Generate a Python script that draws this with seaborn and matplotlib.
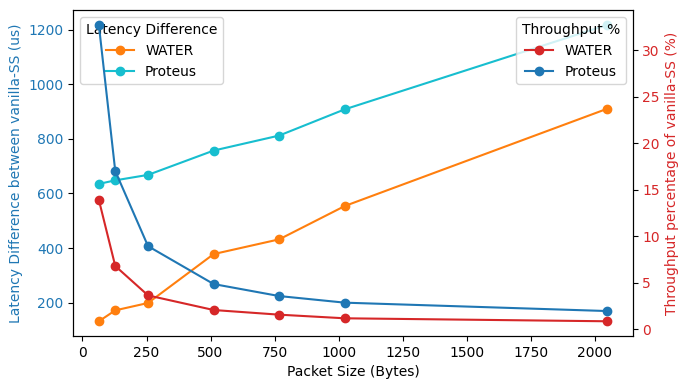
import matplotlib
matplotlib.use("Agg")
import matplotlib.pyplot as plt
import seaborn as sns
import pandas as pd

packet_sizes = [64, 128, 256, 512, 768, 1024, 2048]
latency_water = [132, 172, 199, 378, 432, 554, 910]
latency_proteus = [635, 648, 668, 757, 812, 908, 1217]
throughput_water = [13.9, 6.8, 3.64, 2.07, 1.57, 1.18, 0.86]
throughput_proteus = [32.7, 17.0, 8.93, 4.86, 3.57, 2.86, 1.96]

df = pd.DataFrame({
    "size": packet_sizes,
    "lat_water": latency_water,
    "lat_proteus": latency_proteus,
    "thr_water": throughput_water,
    "thr_proteus": throughput_proteus,
})

fig, ax1 = plt.subplots(figsize=(6.89, 3.89), dpi=100)
fig.subplots_adjust(left=0.1066, right=0.918, bottom=0.136, top=0.974)
ax2 = ax1.twinx()

def draw(ax, col, color, label):
    sns.lineplot(data=df, x="size", y=col, ax=ax, color=color, marker="o",
                 markersize=6, markeredgecolor=color, markeredgewidth=1,
                 linewidth=1.5, label=label)

draw(ax1, "lat_water", "tab:orange", "WATER")
draw(ax1, "lat_proteus", "tab:cyan", "Proteus")
draw(ax2, "thr_water", "tab:red", "WATER")
draw(ax2, "thr_proteus", "tab:blue", "Proteus")

ax1.set_xlabel("Packet Size (Bytes)")
ax1.set_ylabel("Latency Difference between vanilla-SS (us)", color="tab:blue")
ax2.set_ylabel("Throughput percentage of vanilla-SS (%)", color="tab:red")
ax1.tick_params(axis="y", labelcolor="tab:blue")
ax2.tick_params(axis="y", labelcolor="tab:red")

ax1.legend(title="Latency Difference", loc="upper left")
ax2.legend(title="Throughput %", loc="upper right")

fig.savefig("out.png", dpi=100)
